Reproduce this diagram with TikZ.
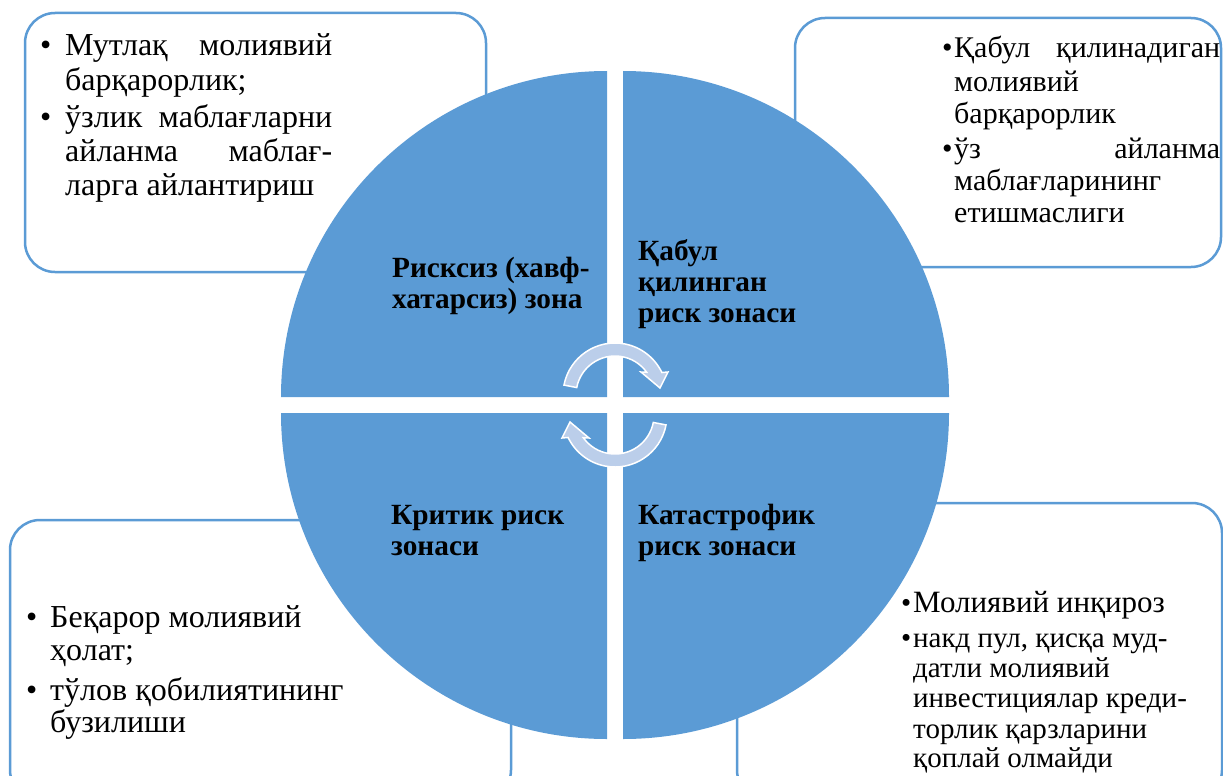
\documentclass[tikz,border=0pt]{standalone}
\usepackage{fontspec}
\setmainfont{Liberation Serif}
\usetikzlibrary{calc}
\definecolor{zblue}{RGB}{91,155,213}
\definecolor{zarrow}{RGB}{187,206,234}
\newcommand\jline[2]{\makebox[#1][s]{#2}}
\tikzset{
  quad/.style={fill=zblue},
  sidebox/.style={draw=zblue, line width=2.5pt, rounded corners=30pt, fill=white},
  txt/.style={inner sep=0pt, anchor=base west, font=\fontsize{32}{34}\selectfont},
  txtb/.style={inner sep=0pt, anchor=base west, font=\fontsize{30}{32}\selectfont},
  txts/.style={inner sep=0pt, anchor=base west, font=\fontsize{29}{31}\selectfont},
  lbl/.style={inner sep=0pt, anchor=base west, font=\bfseries\fontsize{29.3}{31}\selectfont},
  cyc/.style={fill=zarrow, draw=white, line width=1.5pt, line join=miter},
}
\begin{document}
\begin{tikzpicture}[x=1pt,y=-1pt]
\useasboundingbox (0,0) rectangle (1223,776);
% side boxes
\draw[sidebox] (25,13) rectangle (486,272);
\draw[sidebox] (795,18) rectangle (1221,267);
\draw[sidebox] (10,520) rectangle (511,800);
\draw[sidebox] (737,503) rectangle (1222,800);
% quadrants
\fill[quad] (607,397) -- ++(-326,0) arc[start angle=180, end angle=270, radius=326] -- cycle;
\fill[quad] (623,397) -- ++(0,-326) arc[start angle=270, end angle=360, radius=326] -- cycle;
\fill[quad] (623,413) -- ++(326,0) arc[start angle=0, end angle=90, radius=326] -- cycle;
\fill[quad] (607,413) -- ++(0,326) arc[start angle=90, end angle=180, radius=326] -- cycle;
% cycle arrows
\path[cyc] ($(615,395)+(-169:52)$) arc[start angle=-169, end angle=-25.6, radius=52]
  -- (668,372) -- (660,388) -- (641,372)
  -- ($(615,395)+(-35.7:39)$) arc[start angle=-35.7, end angle=-169, radius=39] -- cycle;
\begin{scope}[rotate around={180:(615,405)}]
\path[cyc] ($(615,395)+(-169:52)$) arc[start angle=-169, end angle=-25.6, radius=52]
  -- (668,372) -- (660,388) -- (641,372)
  -- ($(615,395)+(-35.7:39)$) arc[start angle=-35.7, end angle=-169, radius=39] -- cycle;
\end{scope}
% quadrant labels
\node[lbl] (q1a) at (392,277) {Рисксиз (хавф-};
\node[lbl] (q1b) at (392,308) {хатарсиз) зона};
\node[lbl] (q2a) at (638,260) {Қабул};
\node[lbl] (q2b) at (638,291) {қилинган};
\node[lbl] (q2c) at (638,322) {риск зонаси};
\node[lbl] (q3a) at (391,524) {Критик риск};
\node[lbl] (q3b) at (391,555) {зонаси};
\node[lbl] (q4a) at (638,524) {Катастрофик};
\node[lbl] (q4b) at (638,555) {риск зонаси};
% top-left text
\node[txt] (tlb1) at (40,56) {\textbullet};
\node[txt] (tl1) at (65,56) {\jline{267pt}{Мутлақ молиявий}};
\node[txt] (tl2) at (65,90) {барқарорлик;};
\node[txt] (tlb2) at (40,127) {\textbullet};
\node[txt] (tl3) at (65,127) {\jline{267pt}{ўзлик маблағларни}};
\node[txt] (tl4) at (65,161) {\jline{267pt}{айланма маблағ-}};
\node[txt] (tl5) at (65,195) {ларга айлантириш};
% top-right text
\node[txtb] (trb1) at (942,58) {\textbullet};
\node[txtb] (tr1) at (954,58) {\jline{266pt}{Қабул қилинадиган}};
\node[txtb] (tr2) at (954,91) {молиявий};
\node[txtb] (tr3) at (954,123) {барқарорлик};
\node[txtb] (trb2) at (942,158) {\textbullet};
\node[txtb] (tr4) at (954,158) {\jline{266pt}{ўз айланма}};
\node[txtb] (tr5) at (954,190) {маблағларининг};
\node[txtb] (tr6) at (954,222) {етишмаслиги};
% bottom-left text
\node[txt] (blb1) at (26,627) {\textbullet};
\node[txt] (bl1) at (50,627) {Беқарор молиявий};
\node[txt] (bl2) at (50,660) {ҳолат;};
\node[txt] (blb2) at (26,700) {\textbullet};
\node[txt] (bl3) at (50,700) {тўлов қобилиятининг};
\node[txt] (bl4) at (50,732) {бузилиши};
% bottom-right text
\node[txts] (brb1) at (901,612) {\textbullet};
\node[txts, font=\fontsize{31}{31}\selectfont] (br1) at (913,612) {Молиявий инқироз};
\node[txts] (brb2) at (901,647) {\textbullet};
\node[txts] (br2) at (913,647) {накд пул, қисқа муд-};
\node[txts] (br3) at (913,677) {датли молиявий};
\node[txts] (br4) at (913,707) {инвестициялар креди-};
\node[txts] (br5) at (913,738) {торлик қарзларини};
\node[txts] (br6) at (913,767) {қоплай олмайди};
\end{tikzpicture}
\end{document}
